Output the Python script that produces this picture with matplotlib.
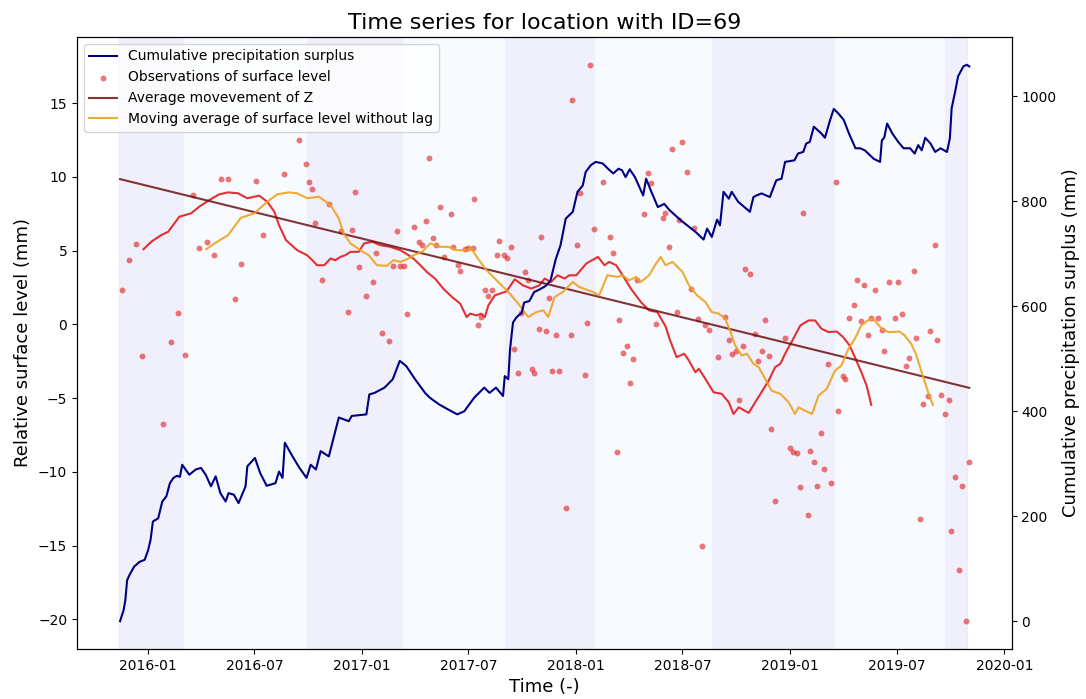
import matplotlib
matplotlib.use("Agg")
import matplotlib.pyplot as plt
import pandas as pd

# cumulative precipitation surplus (right axis, mm)
cps_dates = ["2015-11-15", "2015-11-21", "2015-11-24", "2015-11-27", "2015-12-01", "2015-12-09", "2015-12-18",
             "2015-12-27", "2016-01-02", "2016-01-06", "2016-01-10", "2016-01-19", "2016-01-26", "2016-02-02",
             "2016-02-08", "2016-02-14", "2016-02-20", "2016-02-25", "2016-02-29", "2016-03-12", "2016-03-23",
             "2016-04-01", "2016-04-09", "2016-04-18", "2016-04-26", "2016-05-04", "2016-05-13", "2016-05-18",
             "2016-05-27", "2016-06-04", "2016-06-16", "2016-06-19", "2016-07-02", "2016-07-11", "2016-07-22",
             "2016-08-06", "2016-08-12", "2016-08-18", "2016-08-22", "2016-09-04", "2016-09-16", "2016-09-28",
             "2016-10-05", "2016-10-14", "2016-10-22", "2016-11-05", "2016-11-13", "2016-11-22", "2016-12-09",
             "2016-12-14", "2017-01-08", "2017-01-13", "2017-01-22", "2017-02-08", "2017-02-22", "2017-03-06",
             "2017-03-17", "2017-04-01", "2017-04-18", "2017-04-26", "2017-05-12", "2017-05-28", "2017-06-12",
             "2017-06-24", "2017-07-11", "2017-07-28", "2017-08-06", "2017-08-17", "2017-08-29", "2017-09-01",
             "2017-09-07", "2017-09-10", "2017-09-15", "2017-09-21", "2017-09-30", "2017-10-04", "2017-10-13",
             "2017-10-21", "2017-11-01", "2017-11-10", "2017-11-18", "2017-11-27", "2017-12-05", "2017-12-14",
             "2017-12-26", "2018-01-03", "2018-01-12", "2018-01-17", "2018-01-26", "2018-02-03", "2018-02-15",
             "2018-02-24", "2018-03-05", "2018-03-14", "2018-03-20", "2018-03-26", "2018-04-02", "2018-04-11",
             "2018-04-25", "2018-04-30", "2018-05-09", "2018-05-20", "2018-05-31", "2018-06-09", "2018-06-29",
             "2018-07-24", "2018-08-06", "2018-08-12", "2018-08-20", "2018-08-29", "2018-09-03", "2018-09-09",
             "2018-09-18", "2018-09-23", "2018-10-04", "2018-10-24", "2018-10-30", "2018-11-04", "2018-11-13",
             "2018-11-27", "2018-12-08", "2018-12-17", "2018-12-23", "2019-01-08", "2019-01-14", "2019-01-23",
             "2019-01-28", "2019-02-03", "2019-02-10", "2019-02-23", "2019-03-01", "2019-03-09", "2019-03-16",
             "2019-03-24", "2019-04-02", "2019-04-11", "2019-04-22", "2019-04-30", "2019-05-08", "2019-05-23",
             "2019-06-03", "2019-06-06", "2019-06-10", "2019-06-15", "2019-06-24", "2019-07-04", "2019-07-13",
             "2019-07-24", "2019-08-01", "2019-08-07", "2019-08-13", "2019-08-19", "2019-08-28", "2019-09-05",
             "2019-09-14", "2019-09-25", "2019-09-30", "2019-10-03", "2019-10-09", "2019-10-14", "2019-10-23",
             "2019-10-29", "2019-11-02"]
cps_values = [0, 21, 40, 78, 88, 104, 113, 117, 136, 155, 190, 196, 228, 238, 263, 273, 277, 275, 298, 279, 289,
              292, 279, 257, 276, 244, 228, 244, 241, 225, 257, 295, 311, 282, 258, 263, 285, 273, 340, 314, 292, 273,
              298, 289, 324, 314, 349, 388, 381, 391, 394, 432, 435, 445, 461, 496, 486, 461, 435, 426, 413, 403, 394,
              400, 426, 445, 435, 445, 429, 467, 461, 518, 569, 579, 588, 607, 610, 627, 633, 639, 649, 690, 716, 767,
              780, 818, 830, 856, 869, 875, 872, 862, 853, 862, 859, 846, 861, 846, 811, 843, 818, 789, 795, 783, 763,
              741, 727, 748, 732, 765, 754, 818, 805, 818, 799, 780, 808, 811, 815, 808, 840, 843, 875, 878, 891, 894,
              910, 913, 942, 929, 921, 952, 976, 967, 955, 929, 901, 901, 897, 881, 875, 916, 921, 948, 929, 913, 901,
              901, 891, 907, 897, 921, 910, 894, 901, 894, 920, 977, 1009, 1038, 1057, 1060, 1057]

# observations of surface level (left axis, mm)
obs_dates = ["2015-11-18", "2015-11-30", "2015-12-12", "2015-12-23", "2016-01-28", "2016-02-09", "2016-02-21",
             "2016-03-04", "2016-03-18", "2016-03-29", "2016-04-11", "2016-04-23", "2016-05-05", "2016-05-17",
             "2016-05-29", "2016-06-09", "2016-07-03", "2016-07-15", "2016-08-20", "2016-09-15", "2016-09-27",
             "2016-10-02", "2016-10-08", "2016-10-13", "2016-10-25", "2016-11-06", "2016-11-25", "2016-12-07",
             "2016-12-14", "2016-12-19", "2016-12-26", "2017-01-07", "2017-01-19", "2017-01-24", "2017-02-04",
             "2017-02-16", "2017-02-23", "2017-03-02", "2017-03-07", "2017-03-14", "2017-03-19", "2017-03-31",
             "2017-04-07", "2017-04-13", "2017-04-20", "2017-04-24", "2017-05-01", "2017-05-06", "2017-05-13",
             "2017-05-20", "2017-06-01", "2017-06-05", "2017-06-14", "2017-06-17", "2017-06-25", "2017-07-01",
             "2017-07-08", "2017-07-11", "2017-07-18", "2017-07-23", "2017-07-30", "2017-08-04", "2017-08-11",
             "2017-08-18", "2017-08-23", "2017-08-31", "2017-09-04", "2017-09-11", "2017-09-16", "2017-09-24",
             "2017-09-28", "2017-10-05", "2017-10-10", "2017-10-17", "2017-10-21", "2017-10-29", "2017-11-02",
             "2017-11-10", "2017-11-16", "2017-11-21", "2017-11-28", "2017-12-03", "2017-12-14", "2017-12-23",
             "2017-12-24", "2018-01-03", "2018-01-07", "2018-01-15", "2018-01-20", "2018-01-25", "2018-02-01",
             "2018-02-15", "2018-02-27", "2018-03-04", "2018-03-11", "2018-03-15", "2018-03-22", "2018-03-28",
             "2018-04-03", "2018-04-08", "2018-04-15", "2018-04-27", "2018-05-04", "2018-05-08", "2018-05-17",
             "2018-05-28", "2018-06-02", "2018-06-08", "2018-06-13", "2018-06-22", "2018-06-25", "2018-06-30",
             "2018-07-08", "2018-07-15", "2018-07-21", "2018-07-27", "2018-08-03", "2018-08-09", "2018-08-15",
             "2018-08-31", "2018-09-11", "2018-09-19", "2018-09-23", "2018-10-01", "2018-10-06", "2018-10-13",
             "2018-10-16", "2018-10-25", "2018-11-01", "2018-11-06", "2018-11-13", "2018-11-18", "2018-11-25",
             "2018-11-29", "2018-12-06", "2018-12-23", "2018-12-31", "2019-01-05", "2019-01-12", "2019-01-18",
             "2019-01-23", "2019-01-31", "2019-02-04", "2019-02-11", "2019-02-16", "2019-02-23", "2019-02-28",
             "2019-03-07", "2019-03-11", "2019-03-19", "2019-03-24", "2019-03-31", "2019-04-05", "2019-04-11",
             "2019-04-19", "2019-04-24", "2019-05-01", "2019-05-06", "2019-05-13", "2019-05-18", "2019-05-25",
             "2019-05-30", "2019-06-06", "2019-06-10", "2019-06-18", "2019-06-29", "2019-07-03", "2019-07-11",
             "2019-07-18", "2019-07-22", "2019-07-30", "2019-08-04", "2019-08-10", "2019-08-16", "2019-08-23",
             "2019-08-27", "2019-09-04", "2019-09-08", "2019-09-15", "2019-09-21", "2019-09-28", "2019-10-02",
             "2019-10-09", "2019-10-16", "2019-10-21", "2019-10-28", "2019-11-02"]
obs_values = [2.31, 4.40, 5.47, -2.11, -6.75, -1.22, 0.77, -2.06, 8.77, 5.15, 5.57, 4.69, 9.84, 9.84, 1.75, 4.11,
              9.72, 6.03, 10.22, 12.51, 10.88, 9.68, 9.18, 6.87, 2.99, 8.14, 6.30, 0.86, 6.42, 8.97, 3.90, 1.93, 2.88,
              4.81, -0.56, -1.13, 3.97, 6.30, 3.97, 3.97, 0.68, 6.59, 5.57, 5.37, 6.98, 11.28, 5.83, 5.37, 7.93, 4.55,
              7.46, 5.23, 4.01, 3.65, 5.10, 5.15, 5.15, 8.50, -0.07, 0.50, 2.34, 1.90, 2.34, 4.69, 5.64, 4.69, 4.47,
              5.23, -1.70, -3.30, 0.77, 3.56, 2.99, -3.01, -3.30, -0.34, 5.91, -0.45, 1.82, -3.19, -0.75, -3.19,
              -12.46, -0.75, 15.21, 5.37, 8.89, -3.42, 0.12, 17.6, 6.44, 9.63, 5.94, 4.87, -8.65, 0.27, -1.97, -1.43,
              -3.98, -2.35, 2.99, 7.46, 10.24, 9.56, 0.05, 7.19, 7.57, 5.26, 11.9, 0.84, 7.07, 12.4, 10.31, 2.43,
              6.55, 0.39, -15.02, -0.07, -0.41, -2.18, 0.50, -1.04, -1.99, -1.81, -5.12, -1.43, 3.79, 3.45, -0.63,
              -2.45, -1.79, 0.30, -2.15, -7.11, -11.99, -0.95, -8.36, -8.67, -8.74, -11.05, 7.57, -12.94, -8.57,
              -9.31, -10.94, -7.38, -9.81, -2.67, -10.76, 9.68, -5.89, -3.47, -3.69, 0.43, 1.34, 2.99, 0.20, 2.70,
              -0.75, 0.43, 2.31, 0.43, -0.36, -1.79, 2.88, 0.43, 2.88, 0.68, -2.79, -2.29, 3.65, -0.92, -13.21,
              -5.41, -4.83, -0.48, 5.37, -1.04, -4.76, -6.09, -5.12, -14.0, -10.37, -16.66, -10.94, -20.12, -9.31]

# moving average of Z (red, lagged)
ma_dates = ["2015-12-25", "2016-01-07", "2016-01-24", "2016-02-05", "2016-02-24", "2016-03-15", "2016-03-29",
            "2016-04-15", "2016-05-02", "2016-05-17", "2016-06-03", "2016-06-19", "2016-07-01", "2016-07-09",
            "2016-07-23", "2016-08-04", "2016-08-12", "2016-08-24", "2016-09-12", "2016-09-29", "2016-10-08",
            "2016-10-16", "2016-10-28", "2016-11-08", "2016-11-16", "2016-11-25", "2016-12-03", "2016-12-12",
            "2016-12-26", "2017-01-04", "2017-01-18", "2017-02-01", "2017-02-18", "2017-03-07", "2017-03-21",
            "2017-03-29", "2017-04-07", "2017-04-21", "2017-05-05", "2017-05-19", "2017-06-03", "2017-06-17",
            "2017-06-28", "2017-07-04", "2017-07-15", "2017-07-23", "2017-07-29", "2017-08-04", "2017-08-15",
            "2017-09-04", "2017-09-18", "2017-10-02", "2017-10-16", "2017-10-30", "2017-11-08", "2017-11-19",
            "2017-11-30", "2017-12-12", "2017-12-20", "2018-01-01", "2018-01-18", "2018-02-07", "2018-02-18",
            "2018-02-26", "2018-03-10", "2018-03-21", "2018-04-04", "2018-04-21", "2018-05-05", "2018-05-19",
            "2018-06-02", "2018-06-10", "2018-06-21", "2018-07-04", "2018-07-12", "2018-07-23", "2018-07-29",
            "2018-08-09", "2018-08-23", "2018-09-06", "2018-09-18", "2018-09-26", "2018-10-05", "2018-10-22",
            "2018-11-02", "2018-11-11", "2018-11-25", "2018-12-06", "2018-12-15", "2018-12-23", "2019-01-06",
            "2019-01-18", "2019-02-01", "2019-02-12", "2019-02-23", "2019-03-07", "2019-03-21", "2019-04-01",
            "2019-04-12", "2019-04-21", "2019-05-02", "2019-05-11", "2019-05-19"]
ma_values = [5.10, 5.60, 6.05, 6.28, 7.30, 7.53, 7.98, 8.43, 8.82, 8.95, 8.89, 8.55, 8.66, 8.73, 8.32, 7.64, 6.73,
             5.71, 5.03, 4.69, 4.35, 4.01, 4.01, 4.47, 4.35, 4.58, 4.69, 4.92, 4.92, 5.49, 5.60, 5.37, 5.26, 5.03,
             4.69, 4.47, 4.13, 3.56, 3.11, 2.43, 1.86, 1.41, 0.50, 0.73, 0.61, 0.73, 0.50, 1.29, 1.97, 2.24, 3.06,
             2.65, 2.43, 2.65, 3.11, 2.88, 3.33, 3.11, 3.33, 3.33, 4.13, 4.58, 4.01, 4.24, 4.01, 3.33, 2.43, 1.52,
             0.95, 0.84, -0.12, -1.09, -2.22, -1.99, -2.45, -3.24, -3.01, -3.69, -4.60, -4.71, -5.28, -6.07, -5.62,
             -6.00, -5.28, -4.71, -3.81, -2.90, -2.67, -1.99, -0.97, -0.07, 0.27, 0.27, -0.29, -0.52, -0.48, -0.86,
             -1.43, -2.22, -3.24, -4.15, -5.46]

# moving average without lag (orange)
ma_nolag_dates = ["2016-04-10", "2016-04-24", "2016-05-17", "2016-06-08", "2016-07-01", "2016-07-23", "2016-08-09",
                  "2016-08-29", "2016-09-12", "2016-09-29", "2016-10-19", "2016-11-08", "2016-11-22", "2016-11-30",
                  "2016-12-12", "2016-12-29", "2017-01-12", "2017-01-26", "2017-02-12", "2017-02-23", "2017-03-07",
                  "2017-03-21", "2017-04-01", "2017-04-13", "2017-04-27", "2017-05-14", "2017-05-28", "2017-06-11",
                  "2017-06-25", "2017-07-06", "2017-07-17", "2017-08-01", "2017-08-18", "2017-09-07", "2017-09-24",
                  "2017-10-11", "2017-10-25", "2017-11-06", "2017-11-14", "2017-11-25", "2017-12-09", "2017-12-26",
                  "2018-01-06", "2018-01-29", "2018-02-09", "2018-02-23", "2018-03-12", "2018-03-21", "2018-04-01",
                  "2018-04-13", "2018-04-21", "2018-05-05", "2018-05-17", "2018-05-25", "2018-06-02", "2018-06-14",
                  "2018-07-01", "2018-07-12", "2018-07-26", "2018-08-09", "2018-08-20", "2018-09-01", "2018-09-12",
                  "2018-09-21", "2018-09-29", "2018-10-10", "2018-10-19", "2018-10-30", "2018-11-08", "2018-11-19",
                  "2018-11-30", "2018-12-15", "2018-12-29", "2019-01-09", "2019-01-15", "2019-01-26", "2019-02-07",
                  "2019-02-18", "2019-03-04", "2019-03-18", "2019-03-29", "2019-04-10", "2019-04-21", "2019-05-02",
                  "2019-05-13", "2019-05-22", "2019-05-27", "2019-06-06", "2019-06-17", "2019-06-25", "2019-07-06",
                  "2019-07-15", "2019-07-26", "2019-08-03", "2019-08-11", "2019-08-23", "2019-09-01"]
ma_nolag_values = [5.10, 5.49, 6.05, 7.23, 7.53, 8.32, 8.82, 8.95, 8.89, 8.55, 8.66, 8.09, 7.19, 6.17, 5.49, 5.03,
                   4.69, 4.01, 3.97, 4.35, 4.24, 4.47, 4.74, 4.92, 5.49, 5.26, 5.26, 5.03, 5.03, 5.15, 4.47, 3.67,
                   2.99, 2.20, 1.41, 0.50, 0.84, 0.95, 0.50, 1.86, 2.20, 2.88, 2.54, 2.20, 1.97, 3.33, 3.22, 3.33,
                   2.99, 3.22, 2.88, 3.33, 4.13, 4.58, 4.01, 4.24, 3.56, 2.65, 1.97, 1.52, 0.84, 0.73, 0.39, -0.52,
                   -1.43, -2.11, -1.99, -2.67, -2.90, -3.69, -4.49, -4.71, -5.28, -6.07, -5.62, -5.85, -6.07, -4.83,
                   -4.37, -3.13, -2.79, -1.65, -0.97, -0.07, 0.27, 0.39, 0.16, -0.29, -0.52, -0.52, -0.48, -0.75,
                   -1.31, -1.99, -3.01, -4.49, -5.46]

# linear trend (average movement of Z)
trend_dates = ["2015-11-15", "2019-11-02"]
trend_values = [9.85, -4.3]

# winter / summer periods
winter_periods = [("2015-11-14", "2016-03-01"), ("2016-09-28", "2017-03-09"), ("2017-09-01", "2018-02-01"),
                  ("2018-08-21", "2019-03-17"), ("2019-09-21", "2019-10-30")]
summer_periods = [("2016-03-01", "2016-09-28"), ("2017-03-09", "2017-09-01"), ("2018-02-01", "2018-08-21"),
                  ("2019-03-17", "2019-09-21")]

fig = plt.figure(figsize=(10.86, 6.99), dpi=100)
ax = fig.add_axes([0.0709, 0.0715, 0.8607, 0.8756])

for start, end in winter_periods:
    ax.axvspan(pd.to_datetime(start), pd.to_datetime(end), color='lavender', alpha=0.6)
for start, end in summer_periods:
    ax.axvspan(pd.to_datetime(start), pd.to_datetime(end), color='aliceblue', alpha=0.5)

obs = ax.scatter(pd.to_datetime(obs_dates), obs_values, s=18, color='#e41a1c', alpha=0.6, linewidths=0,
                 label='Observations of surface level')
ax.plot(pd.to_datetime(ma_dates), ma_values, color='#e31a1c', alpha=0.9, lw=1.5)
trend, = ax.plot(pd.to_datetime(trend_dates), trend_values, color='#6e1010', alpha=0.85, lw=1.5,
                 label='Average movevement of Z')
nolag, = ax.plot(pd.to_datetime(ma_nolag_dates), ma_nolag_values, color='#eea21f', alpha=0.9, lw=1.5,
                 label='Moving average of surface level without lag')

ax.set_ylabel('Relative surface level (mm)', fontsize=13)
ax.set_xlabel('Time (-)', fontsize=13)
ax.set_title('Time series for location with ID=69', fontsize=16)

ax2 = ax.twinx()
cps, = ax2.plot(pd.to_datetime(cps_dates), cps_values, color='navy', lw=1.5, label='Cumulative precipitation surplus')
ax2.set_ylabel('Cumulative precipitation surplus (mm)', fontsize=13)

ax2.legend(handles=[cps, obs, trend, nolag], loc='upper left', fontsize=10)

fig.savefig('out.png', dpi=100)
